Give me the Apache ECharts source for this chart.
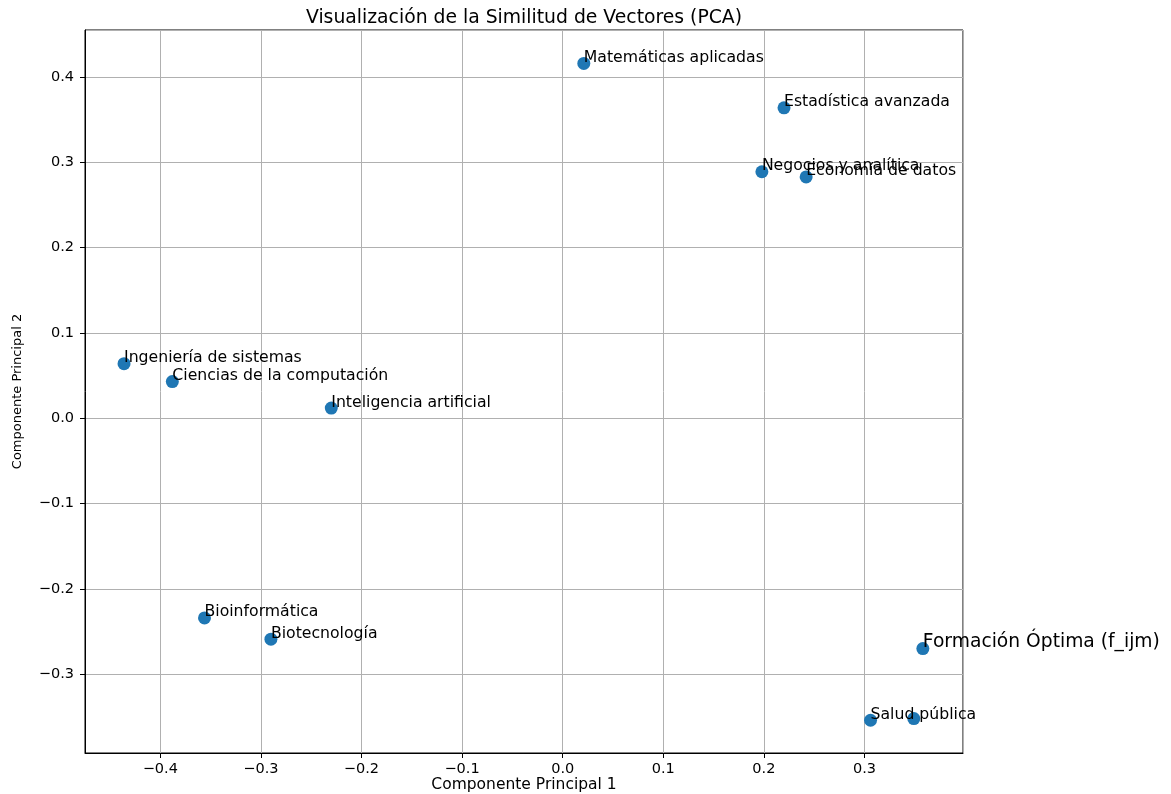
<!DOCTYPE html>
<html><head><meta charset="utf-8">
<script src="https://cdn.jsdelivr.net/npm/echarts@6/dist/echarts.min.js"></script>
<style>html,body{margin:0;padding:0;background:#fff}#c{width:1171px;height:794px}</style>
</head><body><div id="c"></div>
<script>
const titleText = 'Visualización de la Similitud de Vectores (PCA)';
const xName = 'Componente Principal 1';
const yName = 'Componente Principal 2';
const names = ['Matemáticas aplicadas','Estadística avanzada','Negocios y analítica','Economía de datos',
  'Ingeniería de sistemas','Ciencias de la computación','Inteligencia artificial','Bioinformática',
  'Biotecnología','Salud pública','','Formación Óptima (f_ijm)'];
const pc1 = [0.021, 0.220, 0.198, 0.242, -0.436, -0.388, -0.230, -0.356, -0.290, 0.306, 0.349, 0.358];
const pc2 = [0.416, 0.364, 0.289, 0.283, 0.064, 0.043, 0.012, -0.234, -0.259, -0.354, -0.352, -0.270];
const xTicks = [-0.4, -0.3, -0.2, -0.1, 0.0, 0.1, 0.2, 0.3];
const xTickLabels = ['−0.4','−0.3','−0.2','−0.1','0.0','0.1','0.2','0.3'];
const yTicks = [-0.3, -0.2, -0.1, 0.0, 0.1, 0.2, 0.3, 0.4];
const yTickLabels = ['−0.3','−0.2','−0.1','0.0','0.1','0.2','0.3','0.4'];
const xRange = [-0.4748, 0.3979];
const yRange = [-0.3924, 0.4552];
const highlightName = 'Formación Óptima (f_ijm)';

function fmt(ticks, labels) {
  return function (v) {
    for (let i = 0; i < ticks.length; i++) if (Math.abs(ticks[i] - v) < 1e-6) return labels[i];
    return '';
  };
}
const FONT = 'DejaVu Sans';
const data = names.map((n, i) => {
  const big = n === highlightName;
  const fs = big ? 18.7 : 15.7;
  return {
    name: n,
    value: [pc1[i], pc2[i]],
    label: {
      show: n !== '',
      formatter: n,
      fontSize: fs,
      position: [6.5, 6.5 - fs * 0.35],
      align: 'left',
      verticalAlign: 'middle'
    }
  };
});
const axisCommon = {
  type: 'value',
  axisLine: { show: true, onZero: false, lineStyle: { color: '#000', width: 1 } },
  axisTick: { show: true, length: 5, lineStyle: { color: '#000', width: 1 } },
  splitLine: { show: true, lineStyle: { color: '#b0b0b0', width: 1 } },
  nameLocation: 'middle',
  nameMoveOverlap: false,
  nameTextStyle: { color: '#000', fontFamily: FONT }
};
const chart = echarts.init(document.getElementById('c'));
chart.setOption({
  animation: false,
  backgroundColor: '#fff',
  title: {
    text: titleText, left: 524, top: 9, textAlign: 'center', padding: 0,
    textStyle: { fontFamily: FONT, fontSize: 18.8, fontWeight: 'normal', color: '#000' }
  },
  grid: { left: 85, right: 208, top: 30, bottom: 41, containLabel: false, outerBoundsMode: 'none',
    show: true, borderColor: '#000', borderWidth: 1, backgroundColor: 'transparent' },
  xAxis: Object.assign({}, axisCommon, {
    min: xRange[0], max: xRange[1], splitNumber: 9,
    name: xName, nameGap: 24,
    nameTextStyle: { color: '#000', fontFamily: FONT, fontSize: 15.5 },
    axisLabel: { formatter: fmt(xTicks, xTickLabels), color: '#000', fontFamily: FONT, fontSize: 14.5, margin: 9, showMinLabel: false, showMaxLabel: false }
  }),
  yAxis: Object.assign({}, axisCommon, {
    min: yRange[0], max: yRange[1], splitNumber: 8,
    name: yName, nameGap: 61,
    nameTextStyle: { color: '#000', fontFamily: FONT, fontSize: 13 },
    axisLabel: { formatter: fmt(yTicks, yTickLabels), color: '#000', fontFamily: FONT, fontSize: 14.5, margin: 11, showMinLabel: false, showMaxLabel: false }
  }),
  series: [{
    type: 'scatter',
    symbolSize: 13,
    itemStyle: { color: '#1f77b4', opacity: 1 },
    label: { color: '#000', fontFamily: FONT },
    labelLayout: { hideOverlap: false },
    data: data
  }]
});
</script>
</body></html>
